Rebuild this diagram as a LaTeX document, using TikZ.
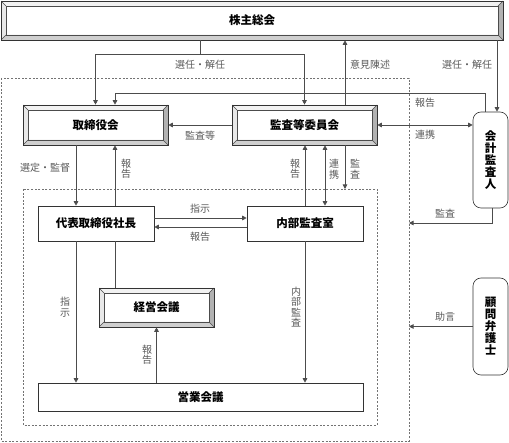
\documentclass[tikz,border=0pt]{standalone}
\usepackage{fontspec}
\setmainfont{Noto Sans CJK JP}
\usetikzlibrary{arrows.meta}
\newcommand\bvd{5pt}
\tikzset{
  boxfont/.style={font=\fontsize{11.5}{12}\selectfont\bfseries},
  lab/.style={font=\fontsize{10}{10.5}\selectfont, text=black!65, inner sep=0pt, align=center},
  plainbox/.style={draw=black!80, line width=0.6pt, fill=white, inner sep=0pt, boxfont},
  roundbox/.style={plainbox, rounded corners=8pt, align=center},
  bevel/.style={plainbox,
    path picture={
      \path (path picture bounding box.south west) coordinate (bsw)
            (path picture bounding box.north east) coordinate (bne)
            (path picture bounding box.north west) coordinate (bnw)
            (path picture bounding box.south east) coordinate (bse);
      \fill[gray!10] (bnw) -- (bne) -- ([shift={(-\bvd,-\bvd)}]bne) -- ([shift={(\bvd,-\bvd)}]bnw) -- cycle;
      \fill[gray!18] (bnw) -- (bsw) -- ([shift={(\bvd,\bvd)}]bsw) -- ([shift={(\bvd,-\bvd)}]bnw) -- cycle;
      \fill[gray!60] (bne) -- (bse) -- ([shift={(-\bvd,\bvd)}]bse) -- ([shift={(-\bvd,-\bvd)}]bne) -- cycle;
      \fill[gray!38] (bsw) -- (bse) -- ([shift={(-\bvd,\bvd)}]bse) -- ([shift={(\bvd,\bvd)}]bsw) -- cycle;
      \draw[black!70, line width=0.5pt] ([shift={(\bvd,\bvd)}]bsw) rectangle ([shift={(-\bvd,-\bvd)}]bne);
      \draw[black!70, line width=0.5pt] (bsw) -- ([shift={(\bvd,\bvd)}]bsw)
        (bse) -- ([shift={(-\bvd,\bvd)}]bse) (bne) -- ([shift={(-\bvd,-\bvd)}]bne)
        (bnw) -- ([shift={(\bvd,-\bvd)}]bnw);
    }},
  con/.style={draw=black!70, line width=0.7pt},
  arr/.style={con, -{Triangle[width=4.5pt,length=4.5pt]}},
  arrr/.style={con, {Triangle[width=4.5pt,length=4.5pt]}-{Triangle[width=4.5pt,length=4.5pt]}},
  dots/.style={draw=black!55, line width=0.8pt, dash pattern=on 2pt off 1.6pt}
}
\begin{document}
\begin{tikzpicture}[x=1pt,y=-1pt]
\useasboundingbox (0,0) rectangle (509,443);
% dotted frames
\draw[dots] (1,78) rectangle (409,441);
\draw[dots] (23,189) rectangle (377,425);
% boxes
\node[bevel, minimum width=502pt, minimum height=39pt] (kabu) at (252,20.5) {株主総会};
\node[bevel, minimum width=145pt, minimum height=40pt] (tori) at (95.5,125) {取締役会};
\node[bevel, minimum width=145pt, minimum height=40pt] (kansa) at (304.5,125) {監査等委員会};
\node[plainbox, minimum width=116pt, minimum height=35pt] (daihyo) at (96,223.5) {代表取締役社長};
\node[plainbox, minimum width=116pt, minimum height=35pt] (naibu) at (305,223.5) {内部監査室};
\node[bevel, minimum width=115pt, minimum height=39pt] (keiei) at (156.5,307.5) {経営会議};
\node[plainbox, minimum width=325pt, minimum height=28pt] (eigyo) at (200.5,397) {営業会議};
\node[roundbox, minimum width=35pt, minimum height=96pt] (kaikei) at (490.5,160) {会\\計\\監\\査\\人};
\node[roundbox, minimum width=35pt, minimum height=97pt] (komon) at (490.5,326.5) {顧\\問\\弁\\護\\士};
% helper coordinates
\coordinate (x76) at (76,0);
\coordinate (x115) at (115,0);
\coordinate (x325) at (325,0);
\coordinate (x345) at (345,0);
\coordinate (x485) at (485,0);
\coordinate (x492) at (492,0);
\coordinate (x497) at (497,0);
\coordinate (y218) at (0,218);
\coordinate (y227) at (0,227);
\coordinate (j1) at (200,54);
\coordinate (r1) at (115,93);
\coordinate (od) at (409,223);
\coordinate (id) at (345,189);
% connectors
\draw[con] (j1 |- kabu.south) -- (j1);
\draw[arr] (j1) -| (tori.north);
\draw[arr] (j1) -| (kansa.north);
\draw[arr] (x345 |- kansa.north) -- (x345 |- kabu.south);
\draw[arr] (x497 |- kabu.south) -- (x497 |- kaikei.north);
\draw[arr] (x485 |- kaikei.north) |- (r1) -- (r1 |- tori.north);
\draw[arr] (kansa.west) -- (tori.east);
\draw[arrr] (kansa.east) -- (kaikei.west |- kansa.east);
\draw[arr] (x492 |- kaikei.south) |- (od);
\draw[arr] (x76 |- tori.south) -- (x76 |- daihyo.north);
\draw[arr] (x115 |- daihyo.north) -- (x115 |- tori.south);
\draw[arr] (daihyo.east |- y218) -- (naibu.west |- y218);
\draw[arr] (naibu.west |- y227) -- (daihyo.east |- y227);
\draw[arr] (naibu.north) -- (naibu.north |- kansa.south);
\draw[arrr] (x325 |- naibu.north) -- (x325 |- kansa.south);
\draw[arr] (x345 |- kansa.south) -- (id);
\draw[arr] (x76 |- daihyo.south) -- (x76 |- eigyo.north);
\draw[con] (x115 |- daihyo.south) -- (x115 |- keiei.north);
\draw[arr] (keiei.south |- eigyo.north) -- (keiei.south);
\draw[arr] (naibu.south) -- (naibu.south |- eigyo.north);
\draw[arr] (komon.west) -- (komon.west -| od);
% labels
\node[lab] (l1) at (200,65) {選任・解任};
\node[lab] (l2) at (370,65) {意見陳述};
\node[lab] (l3) at (467,65) {選任・解任};
\node[lab] (l4) at (425,103) {報告};
\node[lab] (l5) at (200,136) {監査等};
\node[lab] (l6) at (425,135) {連携};
\node[lab] (l7) at (445,214) {監査};
\node[lab] (l8) at (45,168) {選定・監督};
\node[lab] (l9) at (126,169) {報\\告};
\node[lab] (l10) at (200,209) {指示};
\node[lab] (l11) at (200,237) {報告};
\node[lab] (l12) at (295,169) {報\\告};
\node[lab] (l13) at (334,169) {連\\携};
\node[lab] (l14) at (355,169) {監\\査};
\node[lab] (l15) at (65,307) {指\\示};
\node[lab] (l16) at (147,355) {報\\告};
\node[lab] (l17) at (296,307) {内\\部\\監\\査};
\node[lab] (l18) at (445,317) {助言};
\end{tikzpicture}
\end{document}
